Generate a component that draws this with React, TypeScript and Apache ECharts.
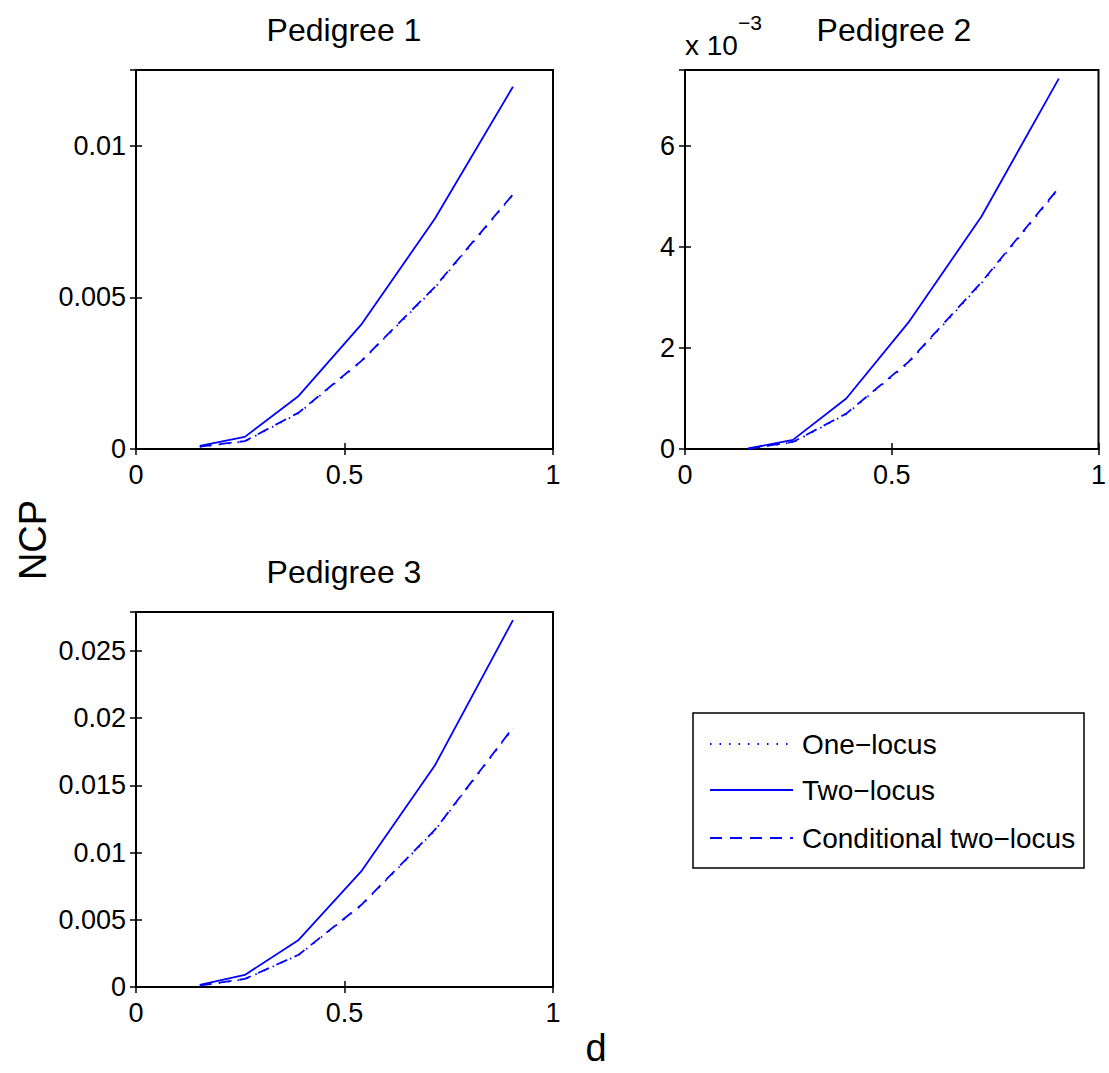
import React, { useEffect, useRef } from "react";
import * as echarts from "echarts";

const dValues = [0.153, 0.261, 0.39, 0.54, 0.717, 0.904];

const ped1Two = [0.0001, 0.0004, 0.00175, 0.0041, 0.0076, 0.01195];
const ped1Cond = [0.00008, 0.00026, 0.0012, 0.0029, 0.00535, 0.0084];
const ped1One = [0.00007, 0.00025, 0.00118, 0.00288, 0.00532, 0.00838];

const ped2Two = [0.00001, 0.00018, 0.001, 0.0025, 0.0046, 0.00733];
const ped2Cond = [0.000005, 0.00014, 0.0007, 0.00172, 0.0033, 0.00517];
const ped2One = [0.000004, 0.00013, 0.00069, 0.0017, 0.00328, 0.00515];

const ped3Two = [0.00015, 0.0009, 0.0035, 0.0086, 0.0165, 0.0273];
const ped3Cond = [0.0001, 0.0006, 0.0024, 0.0061, 0.0117, 0.0193];
const ped3One = [0.00009, 0.00058, 0.00238, 0.00605, 0.01165, 0.01925];

const titles = ["Pedigree 1", "Pedigree 2", "Pedigree 3"];
const yMaxes = [0.0125, 0.0075, 0.0279];
const yIntervals = [0.005, 0.002, 0.005];
const yScales = [1, 1000, 1];
const legendNames = ["One\u2212locus", "Two\u2212locus", "Conditional two\u2212locus"];

const FONT = "'Liberation Sans', Arial, Helvetica, sans-serif";
const BLUE = "#0000ff";

export default function App() {
  const ref = useRef<HTMLDivElement>(null);
  useEffect(() => {
    document.body.style.margin = "0";
    const chart = echarts.init(ref.current!, null, { renderer: "svg" });
    const grids = [
      { left: 136, top: 70, width: 417, height: 379 },
      { left: 685, top: 70, width: 417, height: 379 },
      { left: 136, top: 612, width: 417, height: 375 },
    ];
    const seriesData = [
      [ped1One, ped1Two, ped1Cond],
      [ped2One, ped2Two, ped2Cond],
      [ped3One, ped3Two, ped3Cond],
    ];
    const xAxis: any[] = [];
    const yAxis: any[] = [];
    const series: any[] = [];
    const dashes: any[] = [[1.5, 8], "solid", [12, 8]];
    grids.forEach((g, i) => {
      const baseX = {
        type: "value",
        gridIndex: i,
        min: 0,
        max: 1,
        interval: 0.5,
        axisLine: { show: false },
        splitLine: { show: false },
        axisTick: { show: true, inside: true, length: 6, lineStyle: { color: "#000", width: 1.5 } },
      };
      xAxis.push({
        ...baseX,
        position: "bottom",
        axisLabel: {
          show: true,
          color: "#000",
          fontFamily: FONT,
          fontSize: 27,
          margin: 12,
          formatter: (v: number) => String(parseFloat(v.toPrecision(6))),
        },
      });
      xAxis.push({ ...baseX, position: "top", axisLabel: { show: false } });
      const baseY = {
        type: "value",
        gridIndex: i,
        min: 0,
        max: yMaxes[i],
        interval: yIntervals[i],
        axisLine: { show: false },
        splitLine: { show: false },
        axisTick: { show: true, inside: true, length: 6, lineStyle: { color: "#000", width: 1.5 } },
      };
      yAxis.push({
        ...baseY,
        position: "left",
        axisLabel: {
          show: true,
          showMaxLabel: false,
          color: "#000",
          fontFamily: FONT,
          fontSize: 27,
          margin: 10,
          formatter: (v: number) => String(parseFloat((v * yScales[i]).toPrecision(6))),
        },
      });
      yAxis.push({ ...baseY, position: "right", axisLabel: { show: false } });
      seriesData[i].forEach((vals, k) => {
        series.push({
          type: "line",
          name: legendNames[k],
          xAxisIndex: i * 2,
          yAxisIndex: i * 2,
          data: dValues.map((d, j) => [d, vals[j]]),
          symbol: "none",
          lineStyle: { color: BLUE, width: 1.8, type: dashes[k] },
          z: 3 - k,
        });
      });
    });

    const titleCenters = [
      { x: 344, y: 30 },
      { x: 894, y: 30 },
      { x: 344, y: 572 },
    ];

    const legendY = [744, 790, 838];
    const graphic: any[] = [];
    titleCenters.forEach((c, i) => {
      graphic.push({
        type: "text",
        x: c.x,
        y: c.y,
        style: { text: titles[i], font: `32px ${FONT}`, fill: "#000", align: "center", verticalAlign: "middle" },
      });
    });
    graphic.push({
      type: "text",
      x: 685,
      y: 45,
      style: { text: "x 10", font: `28px ${FONT}`, fill: "#000", align: "left", verticalAlign: "middle" },
    });
    graphic.push({
      type: "text",
      x: 738,
      y: 22,
      style: { text: "\u22123", font: `21px ${FONT}`, fill: "#000", align: "left", verticalAlign: "middle" },
    });
    graphic.push({
      type: "text",
      x: 33,
      y: 540,
      rotation: Math.PI / 2,
      style: { text: "NCP", font: `38px ${FONT}`, fill: "#000", align: "center", verticalAlign: "middle" },
    });
    graphic.push({
      type: "text",
      x: 596,
      y: 1048,
      style: { text: "d", font: `38px ${FONT}`, fill: "#000", align: "center", verticalAlign: "middle" },
    });
    graphic.push({
      type: "rect",
      shape: { x: 693, y: 713, width: 391, height: 155 },
      style: { fill: "#fff", stroke: "#000", lineWidth: 1.5 },
      z: 10,
    });
    legendNames.forEach((n, k) => {
      graphic.push({
        type: "line",
        shape: { x1: 710, y1: legendY[k], x2: 793, y2: legendY[k] },
        style: { stroke: BLUE, lineWidth: 1.8, lineDash: k === 1 ? null : dashes[k] },
        z: 11,
      });
      graphic.push({
        type: "text",
        x: 802,
        y: legendY[k],
        style: { text: n, font: `28px ${FONT}`, fill: "#000", align: "left", verticalAlign: "middle" },
        z: 11,
      });
    });

    chart.setOption({
      animation: false,
      backgroundColor: "#fff",
      grid: grids.map((g) => ({ ...g, show: true, borderColor: "#000", borderWidth: 2, backgroundColor: "transparent" })),
      xAxis,
      yAxis,
      series,
      graphic,
    });
    return () => chart.dispose();
  }, []);
  return <div ref={ref} style={{ width: 1109, height: 1073 }} />;
}
